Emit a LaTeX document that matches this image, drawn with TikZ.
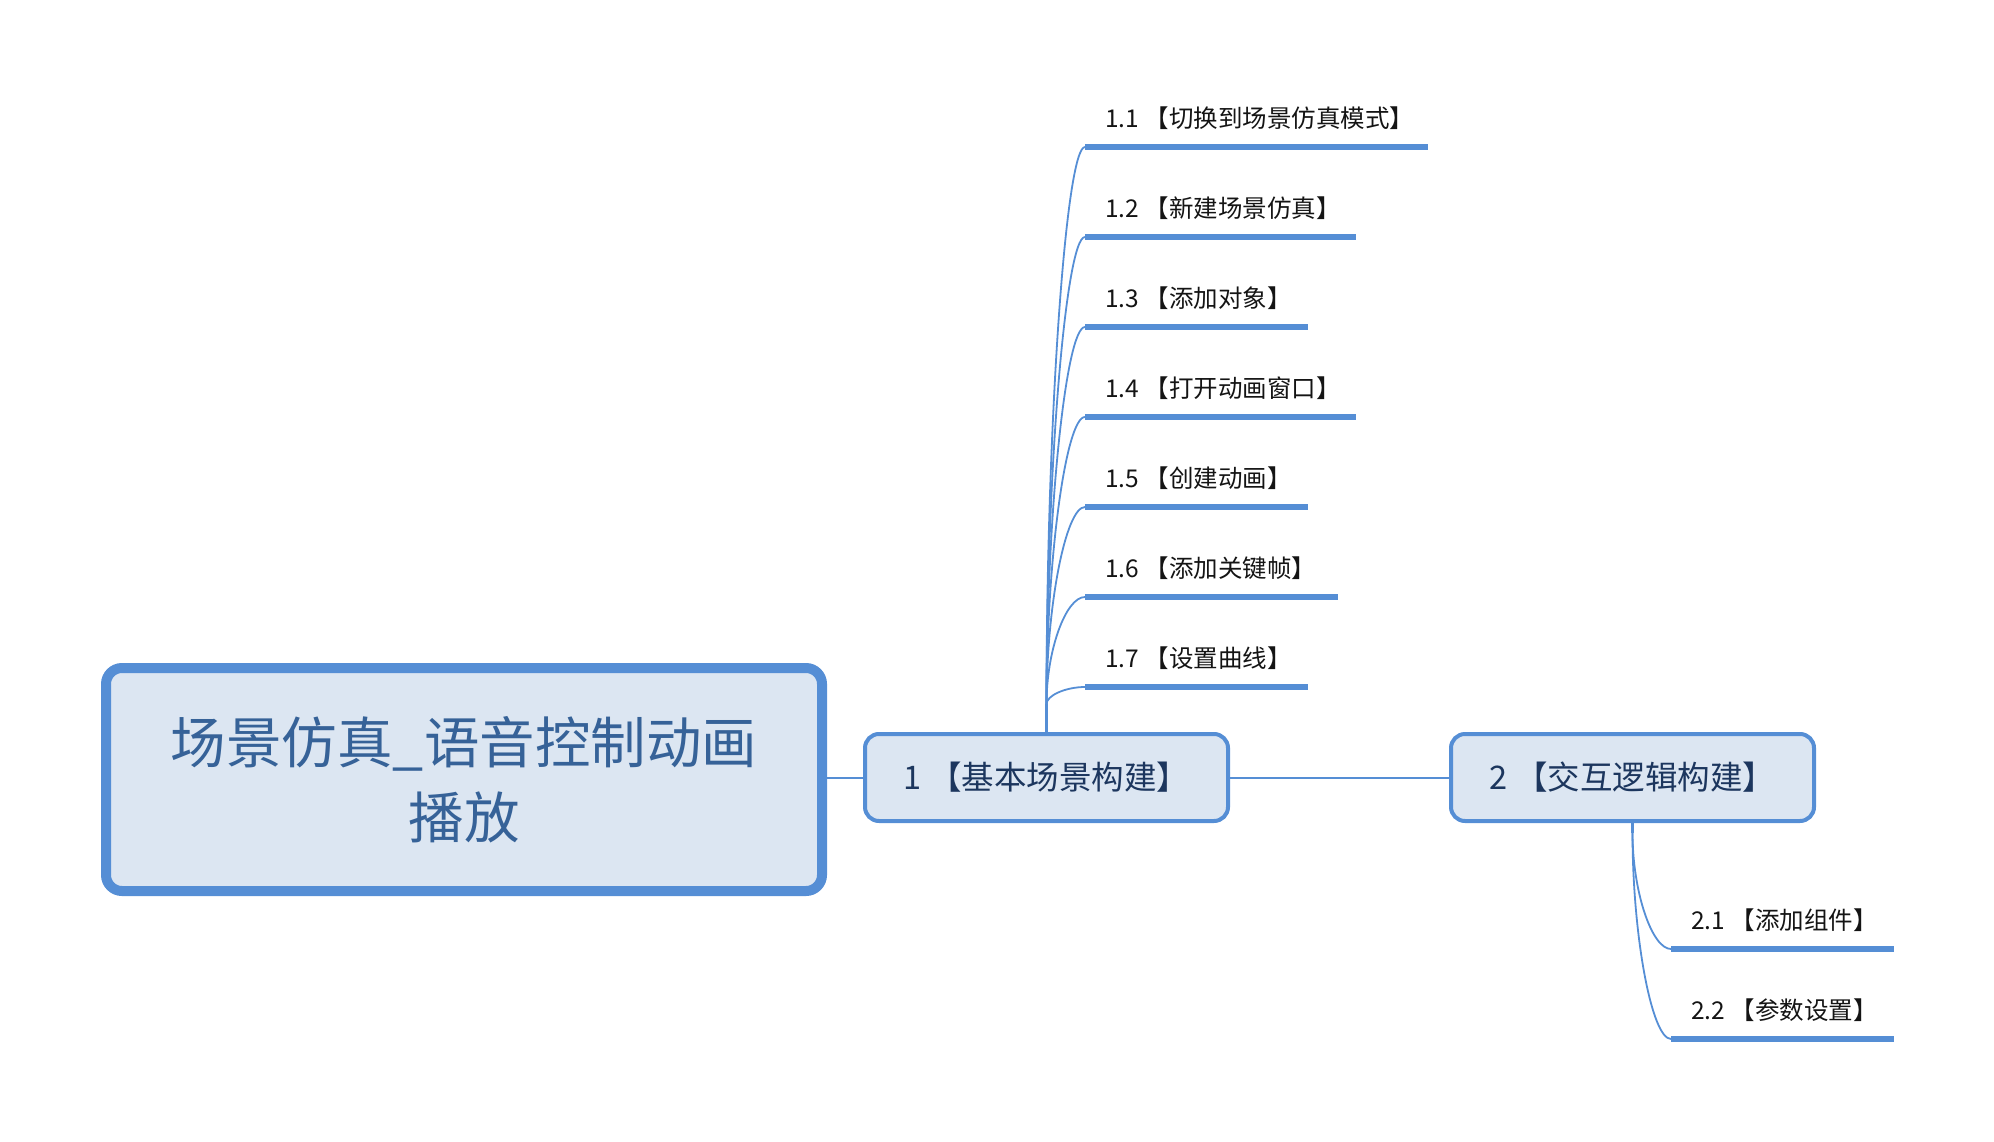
\documentclass[tikz,border=0pt]{standalone}
\usepackage{fontspec}
\usetikzlibrary{calc}
\newfontfamily\cjk{Noto Sans CJK SC}
\definecolor{bordc}{RGB}{85,142,213}
\definecolor{fillc}{RGB}{220,230,242}
\definecolor{titlec}{RGB}{54,98,152}
\definecolor{boxtc}{RGB}{28,54,94}
\definecolor{subtc}{RGB}{20,20,20}
\newcommand\subtxt[2]{\makebox[#1pt][l]{#2}}
\begin{document}
\begin{tikzpicture}[x=1pt,y=-1pt,
  rootbox/.style={draw=bordc, fill=fillc, line width=10pt, rounded corners=16pt,
    minimum width=716pt, minimum height=223pt, align=center, text=titlec,
    font=\cjk\fontsize{55.5pt}{75pt}\selectfont, inner sep=0pt},
  topicbox/.style={draw=bordc, fill=fillc, line width=4pt, rounded corners=14pt,
    minimum width=363pt, minimum height=87pt, text=boxtc,
    font=\cjk\fontsize{32.5pt}{38pt}\selectfont, inner sep=0pt},
  subnode/.style={anchor=south west, inner xsep=20pt, inner ysep=0pt,
    text depth=19pt, text=subtc, font=\cjk\fontsize{24.5pt}{29pt}\selectfont},
  subline/.style={draw=bordc, line width=5.5pt},
  conn/.style={draw=bordc, line width=2pt},
  trunk/.style={draw=bordc, line width=3.5pt},
  curve/.style={draw=bordc, line width=1.8pt}
]
\useasboundingbox (0,0) rectangle (1994,1142);

\node[rootbox] (root) at (464,779.5) {场景仿真\_语音控制动画\\播放};
\node[topicbox] (b1) at (1046.5,777.5) {1 【基本场景构建】};
\node[topicbox] (b2) at (1632.5,777.5) {2 【交互逻辑构建】};

\node[subnode] (s11) at (1085,147) {\subtxt{303}{1.1 【切换到场景仿真模式】}};
\node[subnode] (s12) at (1085,237) {\subtxt{231}{1.2 【新建场景仿真】}};
\node[subnode] (s13) at (1085,327) {\subtxt{183}{1.3 【添加对象】}};
\node[subnode] (s14) at (1085,417) {\subtxt{231}{1.4 【打开动画窗口】}};
\node[subnode] (s15) at (1085,507) {\subtxt{183}{1.5 【创建动画】}};
\node[subnode] (s16) at (1085,597) {\subtxt{213}{1.6 【添加关键帧】}};
\node[subnode] (s17) at (1085,687) {\subtxt{183}{1.7 【设置曲线】}};
\node[subnode] (s21) at (1671,949) {\subtxt{183}{2.1 【添加组件】}};
\node[subnode] (s22) at (1671,1039) {\subtxt{183}{2.2 【参数设置】}};

\draw[conn] (root.east |- b1.west) -- (b1.west);
\draw[conn] (b1.east) -- (b2.west);

% trunk of topic 1
\coordinate (t1) at ($(b1.north)+(0,-28)$);
\draw[trunk] (b1.north) -- (t1);
\foreach \s in {s11,s12,s13,s14,s15,s16,s17}{
  \draw[curve] (t1) .. controls ($(t1)!0.5!(t1 |- \s.south west)$)
    and ($(t1 |- \s.south west)!0.5!(\s.south west)$) .. (\s.south west);
  \draw[subline] (\s.south west) -- (\s.south east);
}
% trunk of topic 2
\coordinate (t2) at ($(b2.south)+(0,10)$);
\draw[trunk] (b2.south) -- (t2);
\foreach \s in {s21,s22}{
  \draw[curve] (t2) .. controls ($(t2)!0.5!(t2 |- \s.south west)$)
    and ($(t2 |- \s.south west)!0.5!(\s.south west)$) .. (\s.south west);
  \draw[subline] (\s.south west) -- (\s.south east);
}
\end{tikzpicture}
\end{document}
